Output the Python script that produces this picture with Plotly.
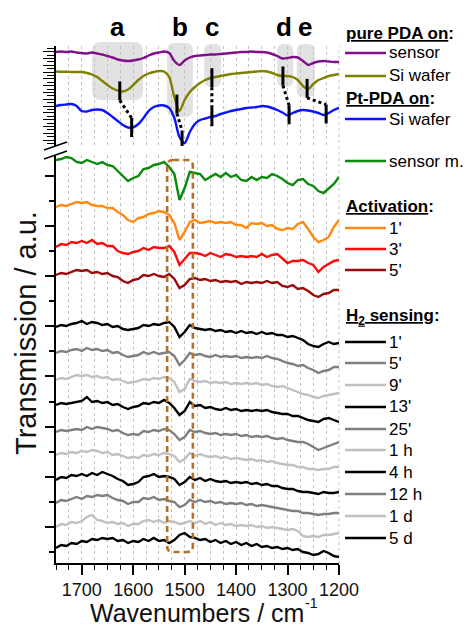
import numpy as np
import plotly.graph_objects as go

# ---------------------------------------------------------------- data
wavenumber = np.arange(1750, 1199, -10)  # cm^-1, 56 points

# reference spectra, relative transmission (a.u.)
pda_sensor = [0, 0.5, 0, 0.5, -0.5, -1, -1.5, -0.5, -1.5, -2.5,
              -4, -5.5, -7.5, -8.5, -9, -8.5, -7.5, -6, -3.5, -1.5,
              -0.5, 0.5, -1, -9, -13, -8.5, -5.5, -4, -3.5, -3,
              -2.5, -2.5, -2, -1.5, -1, -0.5, 0, 0, 0.5, 0,
              0, -0.5, -2, -4, -6.5, -6, -5, -5.5, -9, -13,
              -11, -9.5, -9, -9.5, -10, -10]
pda_si = [0, -0.2, -0.3, -0.5, -0.5, -0.5, -1.5, -3, -5.5, -9.5,
          -13.5, -17, -19, -20, -18, -13.5, -8.5, -4.5, -2, -0.5,
          0.5, 0, -5.5, -25.5, -39.5, -28.5, -20.5, -15.5, -11.5, -8.5,
          -6.5, -5.5, -4.5, -3.5, -2.5, -2, -1.5, -1, -0.5, 0,
          0.5, 0, -1.5, -3.5, -4.5, -4.5, -5.5, -8.5, -14.5, -17.5,
          -12.5, -8.5, -6.5, -4.5, -3.5, -2.5]
ptpda_si = [0, 1, 1.5, 2, 0, -5, -5.5, -4, -3.5, -4,
            -7, -11, -15, -19, -21.5, -21.5, -18, -12, -5, -1,
            0.5, 0.5, -2, -12, -31, -37, -26, -18, -14, -12.5,
            -11, -10, -8, -6.5, -5, -4, -3, -2, -1.5, -1,
            0, -0.5, -2, -4, -6.5, -9.5, -7, -5, -4, -4.5,
            -5.5, -7, -9, -7, -4, -2]

sensor_m = [0, 1, 3, 2, -2, -3, 0, -2, -4, -2,
            -5, -6, -11, -15, -21, -18, -16, -9, -8, -5,
            -4, -2, -7, -14, -40, -28, -12, -13, -14, -20,
            -17, -14, -17, -13, -17, -15, -20, -21, -17, -20,
            -17, -18, -14, -16, -19, -23, -25, -20, -19, -24,
            -26, -31, -33, -28, -24, -17]

act_1 = [0, 2, 1, 3, 5, 4, 5, 2, 1, 1,
         -1, -1, -5, -8, -13, -15, -11, -10, -7, -6,
         -4, -5, -8, -16, -33, -25, -15, -13, -16, -15,
         -14, -16, -15, -16, -15, -18, -18, -21, -16, -17,
         -16, -19, -18, -22, -23, -21, -22, -17, -15, -22,
         -30, -35, -33, -30, -20, -13]
act_3 = [0, 3, 2, 5, 4, 6, 4, 7, 3, 4,
         1, 1, -4, -6, -7, -5, -4, -1, -3, 0,
         -1, -1, 1, -5, -18, -12, -6, -6, -7, -9,
         -6, -8, -10, -7, -8, -10, -9, -10, -9, -10,
         -7, -10, -8, -7, -12, -16, -14, -14, -13, -16,
         -18, -25, -20, -17, -14, -13]
act_5 = [0, 2, 1, 3, 5, 4, 5, 2, 3, 1,
         2, -1, -2, -6, -8, -5, -4, 0, -1, 1,
         -1, -2, 1, -4, -13, -10, -4, -3, -5, -4,
         -6, -5, -7, -6, -7, -6, -9, -7, -8, -7,
         -8, -6, -8, -7, -11, -12, -10, -14, -13, -16,
         -20, -22, -19, -18, -15, -15]

h2_1m = [0, 2, 1, 3, 4, 6, 3, 5, 4, 2,
         3, 0, 1, -2, -3, -2, -1, 2, 1, 3,
         2, 4, 5, 0, -10, -5, 2, -1, -2, -3,
         -2, -4, -3, -5, -4, -6, -4, -6, -5, -7,
         -5, -7, -6, -8, -8, -10, -9, -11, -13, -17,
         -19, -20, -17, -15, -17, -16]
h2_5m = [0, 2, 1, 3, 4, 2, 5, 3, 4, 2,
         3, 0, 1, -2, -4, -3, -2, 1, -1, 1,
         -1, 0, 1, -3, -12, -7, 0, -2, -1, -3,
         -4, -2, -4, -3, -4, -3, -5, -4, -5, -4,
         -5, -3, -5, -6, -8, -10, -11, -13, -12, -15,
         -17, -20, -18, -17, -14, -14]
h2_9m = [0, 2, 1, 3, 5, 4, 5, 3, 4, 2,
         3, 0, 1, -1, -3, -2, -1, 1, 0, 2,
         1, 3, 2, -2, -12, -9, 1, -1, -2, -1,
         -3, -2, -3, -2, -4, -3, -4, -3, -4, -3,
         -5, -4, -6, -7, -6, -8, -10, -12, -14, -15,
         -17, -18, -16, -15, -14, -13]
h2_13m = [0, 2, 1, 2, 3, 4, 8, 3, 4, 2,
          3, 0, 1, -2, -4, -2, -1, 2, 1, 3,
          2, 5, 2, -3, -10, -6, 3, -1, 0, -3,
          -2, -4, -5, -3, -5, -4, -6, -5, -6, -5,
          -6, -5, -7, -8, -9, -9, -11, -11, -13, -15,
          -16, -17, -14, -13, -15, -17]
h2_25m = [0, 2, 1, 2, 3, 2, 5, 3, 5, 4,
          3, 1, 2, -1, -3, -2, -3, 1, 0, 2,
          1, 3, 2, -2, -8, -5, 2, 0, 1, -1,
          -2, -1, -3, -2, -3, -2, -4, -3, -5, -4,
          -5, -4, -6, -7, -6, -8, -9, -10, -10, -12,
          -15, -18, -16, -14, -12, -10]
h2_1h = [0, 2, 1, 3, 2, 4, 3, 5, 4, 2,
         3, 0, 1, -1, -3, -2, -3, 0, -1, 1,
         0, 2, 1, -1, -7, -4, 2, -1, 1, -1,
         -2, -1, -3, -2, -4, -3, -4, -5, -4, -6,
         -5, -7, -6, -8, -9, -10, -10, -12, -12, -14,
         -14, -15, -14, -14, -12, -12]
h2_4h = [0, 3, 2, 5, 4, 6, 4, 7, 5, 8,
         6, 4, 1, -1, -5, -4, -2, 3, 4, 6,
         3, 4, 3, 1, -5, -2, 3, 0, 2, -1,
         1, -1, -2, -1, -3, -2, -3, -2, -4, -3,
         -5, -4, -6, -6, -8, -9, -9, -11, -12, -12,
         -13, -14, -12, -13, -13, -12]
h2_12h = [0, 3, 2, 4, 6, 4, 7, 6, 8, 7,
          8, 5, 3, 2, -1, 1, 1, 5, 4, 6,
          3, 4, 2, 1, -4, -2, 3, 1, 3, 1,
          2, 0, 1, -1, 0, -1, 0, -2, -1, -3,
          -2, -3, -4, -5, -6, -7, -8, -8, -10, -10,
          -11, -12, -11, -11, -10, -10]
h2_1d = [0, 3, 2, 5, 4, 6, 10, 12, 7, 6,
         4, 5, 3, 4, 1, 3, 3, 6, 7, 5,
         7, 4, 6, 5, 3, 4, 6, 4, 6, 3,
         5, 2, 4, 2, 3, 1, 2, 1, 2, 0,
         1, -1, 0, -1, -2, -3, -2, -4, -9, -10,
         -9, -10, -8, -8, -7, -6]
h2_5d = [0, 3, 2, 5, 4, 7, 6, 9, 8, 10,
         9, 10, 7, 8, 5, 7, 6, 9, 7, 10,
         7, 8, 5, 8, 13, 15, 11, 10, 8, 9,
         6, 8, 5, 7, 4, 6, 3, 5, 2, 4,
         1, 2, 0, 1, -1, 0, -2, -1, -4, -5,
         -7, -6, -3, -5, -8, -9]

# band positions (cm^-1) marked on the PDA / Pt-PDA spectra
band_labels = ["a", "b", "c", "d", "e"]
band_label_pos = [1631, 1509, 1447, 1307, 1266]
band_pda = [1626, 1515, 1447, 1309, 1262]
band_ptpda = [1603, 1505, 1447, 1297, 1225]
band_windows = [(1680, 1581), (1534, 1484), (1462, 1429), (1320, 1289), (1282, 1247)]

# ---------------------------------------------------------------- geometry
W, H = 465, 629
ML, MR, MT, MB = 56, 126, 46, 66
PW, PH = W - ML - MR, H - MT - MB
XL, XR = 1750, 1200
FONT = "Liberation Sans, Arial, sans-serif"


def py(p):
    """pixel row -> paper y"""
    return (H - MB - p) / PH


def px(p):
    """pixel column -> paper x"""
    return (p - ML) / PW


def wx(wn):
    """wavenumber -> paper x"""
    return (XL - wn) / (XL - XR)


TOP_BOTTOM, TOP_TOP = 146, 46     # pixel rows of the upper panel
LOW_TOP = 155                      # pixel row where the lower panel starts

top_series = [
    ("sensor", pda_sensor, "#80108a", 94.0),
    ("Si wafer", pda_si, "#808000", 74.5),
    ("Si wafer", ptpda_si, "#0a14ff", 40.0),
]

low_series = [
    ("sensor m.", sensor_m, "#0a8a0a", 403),
    ("1'", act_1, "#ff8a10", 356),
    ("3'", act_3, "#ff0a0a", 316),
    ("5'", act_5, "#9a0a0a", 288),
    ("1'", h2_1m, "#000000", 236),
    ("5'", h2_5m, "#7f7f7f", 210),
    ("9'", h2_9m, "#c0c0c0", 183),
    ("13'", h2_13m, "#000000", 158),
    ("25'", h2_25m, "#7f7f7f", 131),
    ("1 h", h2_1h, "#c0c0c0", 108),
    ("4 h", h2_4h, "#000000", 83),
    ("12 h", h2_12h, "#7f7f7f", 60),
    ("1 d", h2_1d, "#c0c0c0", 36),
    ("5 d", h2_5d, "#000000", 15),
]

fig = go.Figure()

for name, vals, col, off in top_series:
    fig.add_trace(go.Scatter(
        x=wavenumber, y=np.asarray(vals) + off, mode="lines",
        line=dict(color=col, width=2.4, shape="spline", smoothing=0.8),
        xaxis="x", yaxis="y2", showlegend=False, hoverinfo="skip"))

for name, vals, col, off in low_series:
    fig.add_trace(go.Scatter(
        x=wavenumber, y=np.asarray(vals) + off, mode="lines",
        line=dict(color=col, width=2.4),
        xaxis="x", yaxis="y", showlegend=False, hoverinfo="skip"))

# band markers: short vertical bars on both spectra, joined by dotted lines
wn_asc = wavenumber[::-1]
pda_curve = (np.asarray(pda_si) + top_series[1][3])[::-1]
pt_curve = (np.asarray(ptpda_si) + top_series[2][3])[::-1]
HALF = 9.5
for w1, w2 in zip(band_pda, band_ptpda):
    c1 = float(np.interp(w1, wn_asc, pda_curve))
    c2 = float(np.interp(w2, wn_asc, pt_curve))
    for w, c in ((w1, c1), (w2, c2)):
        fig.add_trace(go.Scatter(
            x=[w, w], y=[c - HALF, c + HALF], mode="lines",
            line=dict(color="black", width=3),
            xaxis="x", yaxis="y2", showlegend=False, hoverinfo="skip"))
    fig.add_trace(go.Scatter(
        x=[w1, w2], y=[c1 - HALF, c2 + HALF], mode="lines",
        line=dict(color="black", width=3, dash="dot"),
        xaxis="x", yaxis="y2", showlegend=False, hoverinfo="skip"))


def rounded_rect(x_a, x_b, row_top, row_bot, r):
    l, rr = sorted((wx(x_a), wx(x_b)))
    t, b = py(row_top), py(row_bot)
    rx, ry = r / PW, r / PH
    return (f"M {l+rx},{t} L {rr-rx},{t} Q {rr},{t} {rr},{t-ry} "
            f"L {rr},{b+ry} Q {rr},{b} {rr-rx},{b} L {l+rx},{b} "
            f"Q {l},{b} {l},{b+ry} L {l},{t-ry} Q {l},{t} {l+rx},{t} Z")


shapes = []
rows = [(42, 100, 9), (43, 117, 7), (44, 87, 7), (44, 87, 7), (44, 97, 7)]
for (xa, xb), (rt, rb, rad) in zip(band_windows, rows):
    shapes.append(dict(type="path", xref="paper", yref="paper",
                       path=rounded_rect(xa, xb, rt, rb, rad),
                       fillcolor="#e2e2e2", line=dict(width=0), layer="below"))

# dashed box around band b in the measurement spectra
shapes.append(dict(type="path", xref="paper", yref="paper",
                   path=rounded_rect(*band_windows[1], 160, 552, 6),
                   fillcolor="rgba(0,0,0,0)",
                   line=dict(color="#b3702c", width=2.6, dash="6px,4px"),
                   layer="above"))

# axis break marks
for r0, r1 in ((150, 142), (159, 151)):
    shapes.append(dict(type="line", xref="paper", yref="paper",
                       x0=px(44), y0=py(r0), x1=px(67), y1=py(r1),
                       line=dict(color="black", width=1.5)))

# right-hand dotted grid line at 1200
shapes.append(dict(type="line", xref="paper", yref="paper",
                   x0=1, x1=1, y0=0, y1=1,
                   line=dict(color="#c8c8c8", width=1, dash="3px,3px"),
                   layer="below"))

annotations = []

for lab, pos in zip(band_labels, band_label_pos):
    annotations.append(dict(text=f"<b>{lab}</b>", x=pos, xref="x",
                            y=py(27), yref="paper", showarrow=False,
                            font=dict(family=FONT, size=26, color="black"),
                            xanchor="center", yanchor="middle"))

annotations.append(dict(text="Transmission / a.u.", x=px(26), y=py(333),
                        xref="paper", yref="paper", showarrow=False,
                        textangle=-90, xanchor="center", yanchor="middle",
                        font=dict(family=FONT, size=29, color="#111111")))
# x-axis title, with the exponent set as a separate raised label
annotations.append(dict(text="Wavenumbers / cm", x=px(306), y=py(613),
                        xref="paper", yref="paper", showarrow=False,
                        xanchor="right", yanchor="middle",
                        font=dict(family=FONT, size=25, color="#111111")))
annotations.append(dict(text="-1", x=px(303), y=py(603),
                        xref="paper", yref="paper", showarrow=False,
                        xanchor="left", yanchor="middle",
                        font=dict(family=FONT, size=14, color="#111111")))

# legend block
LEG_SIZE = 17
headers = [("<b><u>pure PDA on</u>:</b>", 33),
           ("<b><u>Pt-PDA on</u>:</b>", 98),
           ("<b><u>Activation</u>:</b>", 207),
           ("<b><u>H<sub>2</sub> sensing</u>:</b>", 317)]
for txt, row in headers:
    annotations.append(dict(text=txt, x=px(344), y=py(row), xref="paper",
                            yref="paper", showarrow=False, xanchor="left",
                            yanchor="middle",
                            font=dict(family=FONT, size=LEG_SIZE,
                                      color="black")))

legend_rows = [53, 76, 119, 161, 228, 249, 270, 342, 363, 385, 407, 429,
               450, 472, 494, 516, 538]
entries = [(n, c) for n, _, c, _ in top_series] + \
          [(n, c) for n, _, c, _ in low_series]
for (name, col), row in zip(entries, legend_rows):
    shapes.append(dict(type="line", xref="paper", yref="paper",
                       x0=px(345), x1=px(386), y0=py(row), y1=py(row),
                       line=dict(color=col, width=2.6)))
    annotations.append(dict(text=name, x=px(387), y=py(row), xref="paper",
                            yref="paper", showarrow=False, xanchor="left",
                            yanchor="middle",
                            font=dict(family=FONT, size=LEG_SIZE,
                                      color="black")))

GRID = dict(gridcolor="#c4c4c4", gridwidth=1, griddash="3px,3px")

fig.update_layout(
    width=W, height=H,
    margin=dict(l=ML, r=MR, t=MT, b=MB),
    paper_bgcolor="white", plot_bgcolor="white",
    showlegend=False,
    xaxis=dict(range=[XL, XR], anchor="y", showline=True, linecolor="black",
               linewidth=1.6, ticks="outside", ticklen=10, tickwidth=1.6,
               tickcolor="black", tick0=1200, dtick=100, showgrid=True,
               zeroline=False,
               tickfont=dict(family=FONT, size=18, color="#111111"),
               minor=dict(dtick=25, tick0=1200, ticks="outside", ticklen=5,
                          tickwidth=1.4, tickcolor="black", showgrid=True,
                          **GRID),
               **GRID),
    yaxis=dict(domain=[0, py(LOW_TOP)], range=[0, py(LOW_TOP) * PH],
               anchor="x", showline=True, linecolor="black", linewidth=1.6,
               showgrid=False, zeroline=False, showticklabels=False,
               ticks="outside", ticklen=9, tickwidth=1.5, tickcolor="black",
               tick0=36, dtick=50.2,
               minor=dict(ticks="outside", ticklen=5, tickwidth=1.5,
                          tickcolor="black", tick0=10.9, dtick=25.1,
                          showgrid=False)),
    yaxis2=dict(domain=[py(TOP_BOTTOM), 1], range=[0, TOP_BOTTOM - TOP_TOP],
                anchor="x", showline=True, linecolor="black", linewidth=1.6,
                showgrid=False, zeroline=False, showticklabels=False,
                ticks="outside", ticklen=11, tickwidth=1.4, tickcolor="black",
                tick0=6, dtick=6.8,
                minor=dict(ticks="outside", ticklen=7, tickwidth=1.4,
                           tickcolor="black", tick0=6, dtick=3.4,
                           showgrid=False)),
    shapes=shapes,
    annotations=annotations,
)

fig.write_html("out.html")
